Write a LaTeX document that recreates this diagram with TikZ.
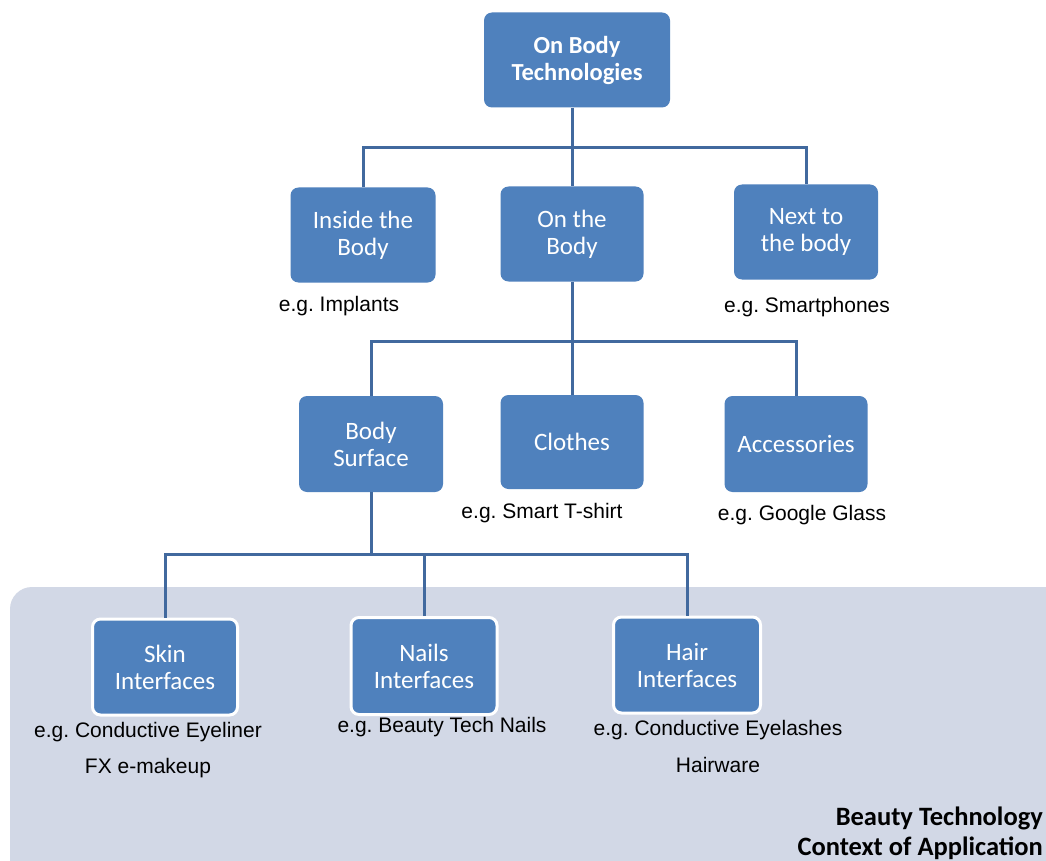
\documentclass[tikz,border=0pt]{standalone}
\usepackage{fontspec}
\setmainfont{Liberation Sans}
\newfontfamily\boxfont{Carlito}
\definecolor{boxblue}{HTML}{4F81BD}
\definecolor{linkblue}{HTML}{41699E}
\definecolor{panelfill}{HTML}{D2D8E6}
\frenchspacing
\begin{document}
\begin{tikzpicture}[x=1pt,y=-1pt,
  catbox/.style={rectangle, rounded corners=8pt, fill=boxblue, text=white, align=center,
    inner sep=0pt, font=\boxfont\fontsize{25}{27}\selectfont, minimum height=95pt},
  beautybox/.style={catbox, draw=white, line width=3pt},
  link/.style={draw=linkblue, line width=3pt},
  example/.style={font=\fontsize{21}{24}\selectfont, inner sep=0pt, text=black},
  caption/.style={font=\boxfont\bfseries\fontsize{26.5}{30}\selectfont, inner sep=0pt, align=right, text=black}
]
\useasboundingbox (0,0) rectangle (1046,861);
\fill[white] (0,0) rectangle (1046,861);
% panel
\begin{scope}
\clip (0,0) rectangle (1046,861);
\fill[panelfill, rounded corners=22pt] (10,587) rectangle (1068,900);
\end{scope}

% boxes
\node[catbox, minimum width=186pt, font=\boxfont\bfseries\fontsize{24.5}{27}\selectfont] (top) at (577,60) {On Body\\Technologies};
\node[catbox, minimum width=145pt] (inside) at (363,235) {Inside the\\Body};
\node[catbox, minimum width=143pt] (onb) at (572,234) {On the\\Body};
\node[catbox, minimum width=144pt] (next) at (806,232) {Next to\\the body};
\node[catbox, minimum width=144pt, minimum height=96pt] (surf) at (371,444) {Body\\Surface};
\node[catbox, minimum width=143pt, minimum height=94pt] (clothes) at (572,442) {Clothes};
\node[catbox, minimum width=143pt, minimum height=96pt] (acc) at (796,444) {Accessories};
\node[beautybox, minimum width=145pt, minimum height=96pt] (skin) at (165,667) {Skin\\Interfaces};
\node[beautybox, minimum width=146pt, minimum height=97pt] (nails) at (424,666) {Nails\\Interfaces};
\node[beautybox, minimum width=147pt, minimum height=96pt] (hair) at (687,665) {Hair\\Interfaces};

% connectors
\coordinate (j1) at (572,148);
\coordinate (j2) at (572,341);
\coordinate (j3) at (371,554);
\draw[link] (top.south -| onb.north) -- (j1);
\draw[link] (inside.north) |- (j1) -| (next.north);
\draw[link] (j1) -- (onb.north);
\draw[link] (onb.south) -- (j2);
\draw[link] (surf.north) |- (j2) -| (acc.north);
\draw[link] (j2) -- (clothes.north);
\draw[link] (surf.south) -- (j3);
\draw[link] (skin.north) |- (j3) -| (hair.north);
\draw[link] (nails.north) -- (nails.north |- j3);

% examples
\node[example] (ex1) at (339,306) {e.g. Implants};
\node[example] (ex2) at (807,307) {e.g. Smartphones};
\node[example] (ex3) at (542,513) {e.g. Smart T-shirt};
\node[example] (ex4) at (802,515) {e.g. Google Glass};
\node[example] (ex5) at (148,732) {e.g. Conductive Eyeliner};
\node[example] (ex6) at (148,768) {FX e-makeup};
\node[example] (ex7) at (442,727) {e.g. Beauty Tech Nails};
\node[example] (ex8) at (718,730) {e.g. Conductive Eyelashes};
\node[example] (ex9) at (718,765) {Hairware};

\node[caption, anchor=east] (cap) at (1043,833) {Beauty Technology\\Context of Application};
\end{tikzpicture}
\end{document}
